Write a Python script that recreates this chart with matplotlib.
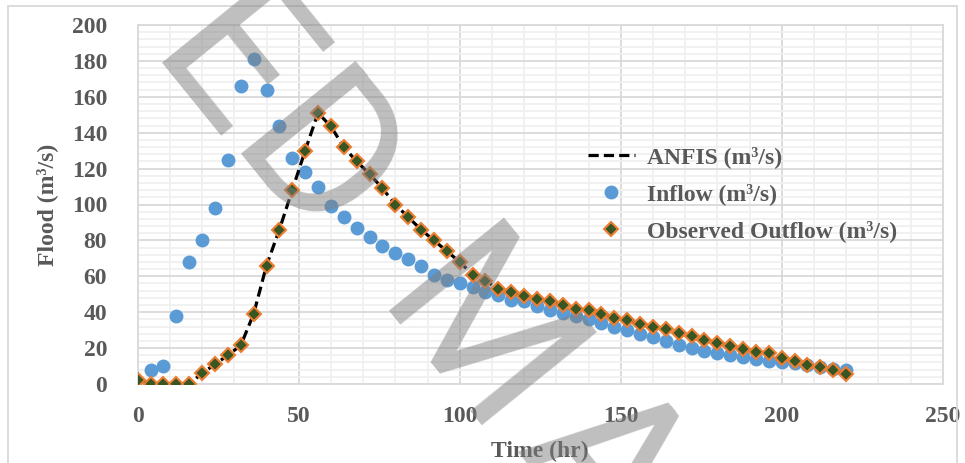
import numpy as np
import matplotlib
matplotlib.use("Agg")
import matplotlib.pyplot as plt
from matplotlib.ticker import MultipleLocator
from matplotlib.patches import Rectangle

plt.rcParams["font.family"] = ["Liberation Serif", "DejaVu Serif"]
plt.rcParams["font.weight"] = "bold"

# time steps (hr)
time_hr = list(range(0, 224, 4))

inflow = [0, 8, 10, 38, 68, 80, 98, 125, 166, 181, 164, 144, 126, 118, 110, 99,
          93, 87, 82, 77, 73, 69.5, 65.5, 61, 58, 56, 54, 51.5, 49.5, 47, 46,
          43.5, 41.5, 39.5, 38, 36, 34, 32, 30, 28, 26, 24, 22, 20, 18.5, 17,
          16, 15, 14, 13, 12, 11.5, 10.5, 9.5, 8.5, 7.8]

outflow = [2.5, 0, 0, 0, 0, 6, 11, 16, 21.5, 39, 66, 86, 108, 130, 151, 143.5,
           132, 124, 117, 109, 100, 93, 86, 80, 74, 68, 61, 57.5, 53, 51, 49,
           47.5, 46, 44, 42, 41, 39, 37, 35.5, 33.5, 32, 30.5, 28.6, 26.7, 24.5,
           23, 21.3, 19.5, 18, 17, 14.7, 12.8, 10.6, 9.3, 7.8, 5.4]

anfis = [2.5, 0, 0, 0, 0, 6, 11, 16, 21.5, 39, 66, 86, 108, 130, 151, 143.5,
         132, 124, 117, 109, 100, 93, 86, 80, 74, 68, 61, 57.5, 53, 51, 49,
         47.5, 46, 44, 42, 41, 39, 37, 35.5, 33.5, 32, 30.5, 28.6, 26.7, 24.5,
         23, 21.3, 19.5, 18, 17, 14.7, 12.8, 10.6, 9.3, 7.8, 5.4]

txt = "#595959"

fig = plt.figure(figsize=(9.65, 4.63), dpi=100)
ax = fig.add_axes([137.7 / 965, 1 - 384 / 463, (942.7 - 137.7) / 965, (384 - 25) / 463])

ax.plot(time_hr, anfis, color="black", lw=2.3, linestyle=(0, (3.2, 1.6)),
        label="ANFIS (m³/s)", zorder=3)
ax.plot(time_hr, inflow, "o", color="#5B9BD5", ms=9, mec="#5B9BD5",
        label="Inflow (m³/s)", zorder=2)
ax.plot(time_hr, outflow, "D", color="#375623", ms=7.5, mec="#ED7D31", mew=1.5,
        label="Observed Outflow (m³/s)", zorder=4)

ax.set_xlim(0, 250)
ax.set_ylim(0, 200)
ax.xaxis.set_major_locator(MultipleLocator(50))
ax.xaxis.set_minor_locator(MultipleLocator(10))
ax.yaxis.set_major_locator(MultipleLocator(20))
ax.yaxis.set_minor_locator(MultipleLocator(4))
ax.grid(which="major", color="#d9d9d9", lw=1.3, zorder=0)
ax.grid(which="minor", color="#f0f0f0", lw=1.3, zorder=0)
ax.set_axisbelow(True)
for s in ax.spines.values():
    s.set_color("#d9d9d9")
    s.set_linewidth(1.3)
ax.tick_params(which="both", length=0, labelsize=17, colors=txt)
ax.tick_params(axis="y", pad=22)
ax.tick_params(axis="x", pad=16)

ax.set_xlabel("Time (hr)", fontsize=17, color=txt, weight="bold", labelpad=10)
ax.set_ylabel("Flood (m³/s)", fontsize=17, color=txt, weight="bold", labelpad=10)

leg = ax.legend(loc="upper left", bbox_to_anchor=(576 / 965, 1 - 134 / 463),
                bbox_transform=fig.transFigure, frameon=False, fontsize=17,
                labelspacing=0.64, handlelength=2.0, handletextpad=0.5,
                borderpad=0)
for t in leg.get_texts():
    t.set_color(txt)

# chart border and cut-off title
fig.patches.append(Rectangle((8 / 965, -0.05), (957 - 8) / 965, 1.05 - 6 / 463,
                             transform=fig.transFigure, fill=False,
                             edgecolor="#d9d9d9", lw=1.3))
fig.text(0.508, 1.022, "(c)", ha="center", va="center", fontsize=17, color=txt)

# watermark
wm = [("E", 225, 72), ("D", 310, 170), ("M", 472, 345), ("A", 600, 468)]
for ch, px, py in wm:
    fig.text(px / 965, 1 - py / 463, ch, fontsize=150, family=["Roboto", "DejaVu Sans"],
             weight="normal", color="#7f7f7f", alpha=0.5, rotation=-51,
             ha="center", va="center", rotation_mode="anchor", zorder=10)

fig.savefig("out.png", dpi=100)
